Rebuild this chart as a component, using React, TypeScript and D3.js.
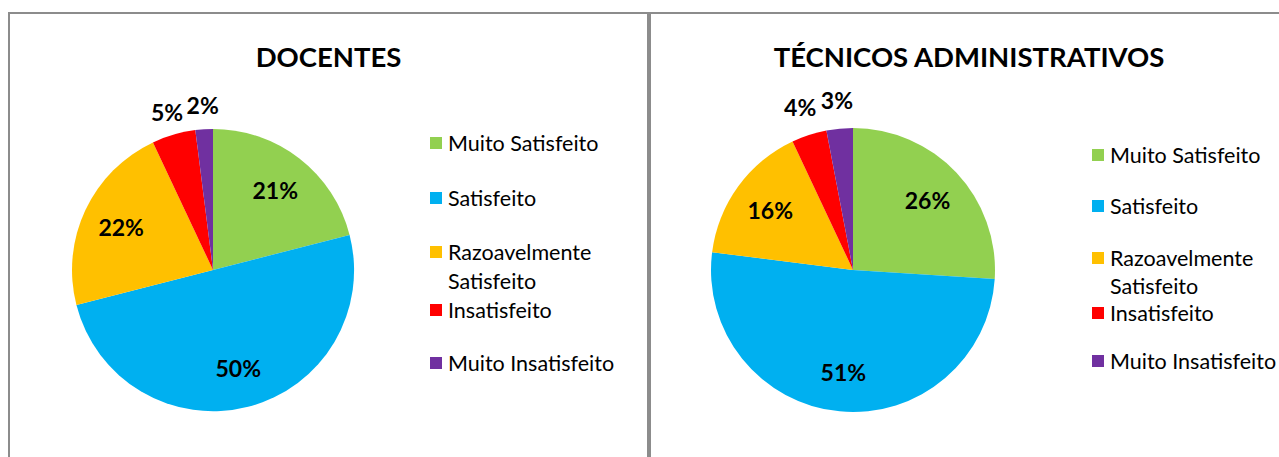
import React from "react";
import * as d3 from "d3";

const categories = [
  "Muito Satisfeito",
  "Satisfeito",
  "Razoavelmente Satisfeito",
  "Insatisfeito",
  "Muito Insatisfeito",
];
const colors = ["#92D050", "#00B0F0", "#FFC000", "#FF0000", "#7030A0"];
const docentesValues = [21, 50, 22, 5, 2];
const tecnicosValues = [26, 51, 16, 4, 3];
const titles = ["DOCENTES", "TÉCNICOS ADMINISTRATIVOS"];

const FONT = "Lato, 'Open Sans', sans-serif";

type PanelProps = {
  title: string;
  values: number[];
  cx: number;
  cy: number;
  r: number;
  titleX: number;
  legendX: number;
  legendYs: number[];
  wrapGap: number;
  outerR: number;
};

function Panel(p: PanelProps) {
  const total = d3.sum(p.values);
  const pie = d3.pie<number>().sort(null).value((d) => d);
  const arcs = pie(p.values);
  const arc = d3.arc<d3.PieArcDatum<number>>().innerRadius(0).outerRadius(p.r);
  const inner = d3.arc<d3.PieArcDatum<number>>().innerRadius(p.r * 0.72).outerRadius(p.r * 0.72);
  const outer = d3.arc<d3.PieArcDatum<number>>().innerRadius(p.outerR).outerRadius(p.outerR);
  return (
    <g>
      <text
        x={p.titleX}
        y={56}
        textAnchor="middle"
        dominantBaseline="central"
        fontFamily={FONT}
        fontWeight={700}
        fontSize={27.5}
        fill="#000"
      >
        {p.title}
      </text>
      <g transform={`translate(${p.cx},${p.cy})`}>
        {arcs.map((a, i) => (
          <path key={i} d={arc(a) || ""} fill={colors[i]} />
        ))}
        {arcs.map((a, i) => {
          const pct = Math.round((a.value / total) * 100);
          const [lx, ly] = pct < 10 ? outer.centroid(a) : inner.centroid(a);
          return (
            <text
              key={"l" + i}
              x={lx}
              y={ly}
              textAnchor="middle"
              dominantBaseline="central"
              fontFamily={FONT}
              fontWeight={700}
              fontSize={23}
              fill="#000"
            >
              {pct}%
            </text>
          );
        })}
      </g>
      {categories.map((c, i) => {
        const y = p.legendYs[i];
        const words = c === "Razoavelmente Satisfeito" ? ["Razoavelmente", "Satisfeito"] : [c];
        return (
          <g key={"lg" + i}>
            <rect x={p.legendX - 18} y={y - 6} width={12} height={12} fill={colors[i]} />
            {words.map((w, j) => (
              <text
                key={j}
                x={p.legendX}
                y={y + j * p.wrapGap}
                dominantBaseline="central"
                fontFamily={FONT}
                fontSize={21.5}
                fill="#000"
              >
                {w}
              </text>
            ))}
          </g>
        );
      })}
    </g>
  );
}

export default function App() {
  return (
    <svg
      width={1279}
      height={457}
      style={{ position: "absolute", left: 0, top: 0, background: "#fff" }}
    >
      <rect x={9} y={13} width={639} height={470} fill="#fff" stroke="#8c8c8c" strokeWidth={2} />
      <rect x={650} y={13} width={660} height={470} fill="#fff" stroke="#8c8c8c" strokeWidth={2} />
      <Panel
        title={titles[0]}
        values={docentesValues}
        cx={213}
        cy={270}
        r={141}
        titleX={328.5}
        legendX={448}
        legendYs={[143, 198, 252, 310, 363]}
        wrapGap={29}
        outerR={165}
      />
      <Panel
        title={titles[1]}
        values={tecnicosValues}
        cx={853}
        cy={270}
        r={142}
        titleX={969}
        legendX={1110}
        legendYs={[155, 206, 258, 313, 361]}
        wrapGap={28}
        outerR={171}
      />
    </svg>
  );
}
